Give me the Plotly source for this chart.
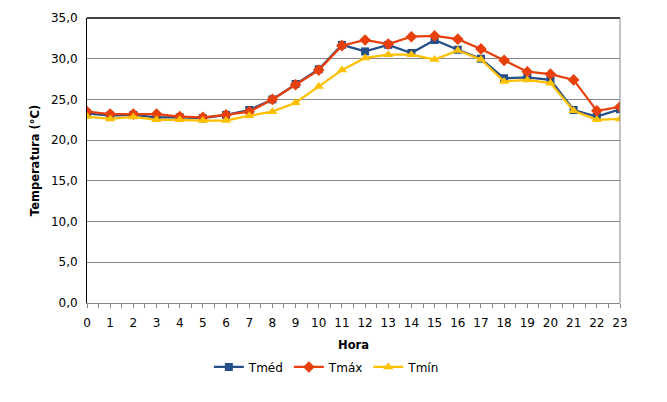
import plotly.graph_objects as go

hours = list(range(24))
t_med = [23.3, 23.0, 23.1, 22.8, 22.8, 22.7, 23.1, 23.7, 25.0, 26.9, 28.7, 31.7,
         30.9, 31.7, 30.7, 32.3, 31.1, 30.0, 27.6, 27.7, 27.4, 23.7, 22.9, 23.8]
t_max = [23.5, 23.2, 23.2, 23.2, 22.9, 22.8, 23.1, 23.5, 25.0, 26.8, 28.6, 31.6,
         32.3, 31.8, 32.7, 32.8, 32.4, 31.2, 29.8, 28.4, 28.1, 27.4, 23.6, 24.1]
t_min = [22.9, 22.6, 22.85, 22.5, 22.5, 22.4, 22.4, 23.0, 23.5, 24.6, 26.6, 28.6,
         30.1, 30.5, 30.5, 29.9, 31.0, 29.9, 27.2, 27.4, 27.0, 23.6, 22.5, 22.6]

font = "DejaVu Sans, Verdana, sans-serif"

fig = go.Figure()
fig.add_trace(go.Scatter(x=hours, y=t_med, name="Tméd", mode="lines+markers",
                         line=dict(color="#254E87", width=2.25),
                         marker=dict(symbol="square", size=8, color="#254E87")))
fig.add_trace(go.Scatter(x=hours, y=t_max, name="Tmáx", mode="lines+markers",
                         line=dict(color="#E8400C", width=2.25),
                         marker=dict(symbol="diamond", size=9, color="#E8400C")))
fig.add_trace(go.Scatter(x=hours, y=t_min, name="Tmín", mode="lines+markers",
                         line=dict(color="#FFC000", width=2.25),
                         marker=dict(symbol="triangle-up", size=9, color="#FFC000")))

# the page body adds 8px on the left and top, so margins are shifted to compensate
fig.update_layout(
    width=667, height=402,
    margin=dict(l=79, r=55, t=10, b=107, autoexpand=False),
    paper_bgcolor="white", plot_bgcolor="white",
    separators=", ",
    font=dict(family=font, size=12, color="black"),
    legend=dict(orientation="h", xref="container", yref="container",
                x=0.478, xanchor="center", y=0.107, yanchor="middle",
                font=dict(size=12), itemwidth=30, tracegroupgap=0),
)
fig.update_xaxes(
    range=[0, 23], tickmode="linear", tick0=0, dtick=1, automargin=False,
    showgrid=False, zeroline=False,
    showline=True, linecolor="#868686", linewidth=1,
    ticks="outside", ticklen=4, tickcolor="#868686",
    ticklabelstandoff=5,
    minor=dict(dtick=0.5, ticks="outside", ticklen=4, tickcolor="#868686"),
    title=dict(text="<b>Hora</b>", standoff=26, font=dict(size=11.5)),
)
fig.update_yaxes(
    range=[0, 35], tickmode="linear", tick0=0, dtick=5, tickformat=".1f",
    automargin=False,
    showgrid=True, gridcolor="#868686", gridwidth=1, zeroline=False,
    showline=True, linecolor="black", linewidth=1,
    ticks="", ticklabelstandoff=6,
    title=dict(text="<b>Temperatura (°C)</b>", standoff=8, font=dict(size=11.5)),
)
fig.add_shape(type="line", xref="paper", yref="paper", x0=0, x1=1, y0=1, y1=1,
              line=dict(color="black", width=1.5))
fig.add_shape(type="line", xref="paper", yref="paper", x0=1, x1=1, y0=0, y1=1,
              line=dict(color="#868686", width=1))

fig.write_html("out.html")
